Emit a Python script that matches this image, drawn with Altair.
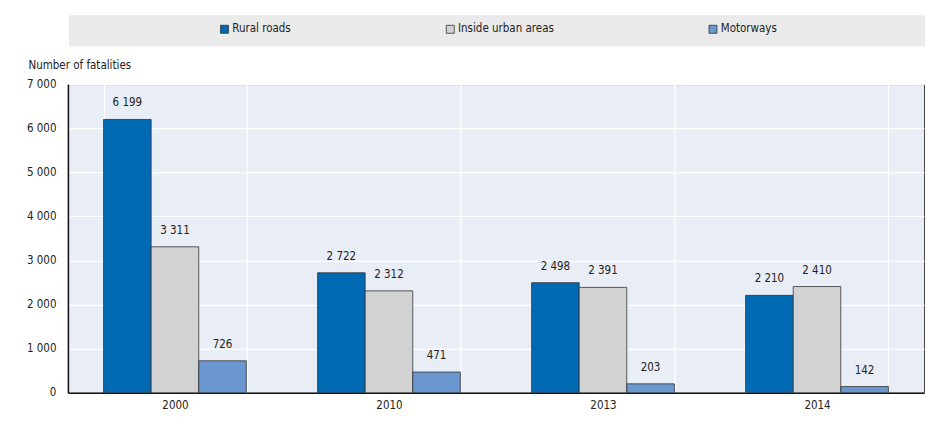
import altair as alt
import pandas as pd

years = ["2000", "2010", "2013", "2014"]
series = ["Rural roads", "Inside urban areas", "Motorways"]
rural = [6199, 2722, 2498, 2210]
urban = [3311, 2312, 2391, 2410]
motorways = [726, 471, 203, 142]
colors = ["#0069b4", "#d2d2d2", "#6a97d0"]

rows = []
for i, yr in enumerate(years):
    for s, vals in zip(series, [rural, urban, motorways]):
        rows.append({"year": yr, "series": s, "value": vals[i]})
df = pd.DataFrame(rows)

FONT = "DejaVu Sans Condensed, Liberation Sans, sans-serif"
TXT = "#222222"
FS = 11.5

band = alt.Chart(pd.DataFrame({"k": [0]})).mark_rect(color="#eaeaea").encode(
    x=alt.value(1), x2=alt.value(858), y=alt.value(-69), y2=alt.value(-38)
)

base = alt.Chart(df).transform_calculate(
    label="replace(format(datum.value, ','), ',', ' ')"
).encode(
    x=alt.X(
        "year:N",
        sort=years,
        scale=alt.Scale(paddingInner=0.333, paddingOuter=0.1665),
        axis=alt.Axis(
            title=None, grid=True, tickBand="extent", gridColor="white", gridWidth=1.2,
            ticks=False, labelAngle=0, labelPadding=7, domainColor="#111111", domainWidth=1.5,
            labelFont=FONT, labelFontSize=FS, labelColor=TXT,
        ),
    ),
    xOffset=alt.XOffset("series:N", sort=series, scale=alt.Scale(paddingInner=0, paddingOuter=0)),
    y=alt.Y(
        "value:Q",
        scale=alt.Scale(domain=[0, 7000]),
        axis=alt.Axis(
            values=list(range(0, 7001, 1000)),
            title="Number of fatalities", titleAngle=0, titleAlign="left", titleBaseline="alphabetic",
            titleX=-40, titleY=-16, titleFontWeight="normal", titleFont=FONT, titleFontSize=FS,
            titleColor=TXT,
            labelExpr="replace(format(datum.value, ','), ',', ' ')",
            ticks=False, labelPadding=12, gridColor="white", gridWidth=1.2,
            domainColor="#111111", domainWidth=1.5,
            labelFont=FONT, labelFontSize=FS, labelColor=TXT,
        ),
    ),
)

bars = base.mark_bar(stroke="#333333", strokeWidth=0.8).encode(
    color=alt.Color(
        "series:N",
        sort=series,
        scale=alt.Scale(domain=series, range=colors),
        legend=alt.Legend(
            title=None, orient="none", legendX=151, legendY=-61, direction="horizontal",
            columnPadding=153, symbolType="square", symbolSize=64, symbolStrokeColor="#333333",
            symbolStrokeWidth=0.8, labelOffset=2, labelFont=FONT, labelFontSize=FS,
            labelColor=TXT, padding=0,
        ),
    )
)

labels = base.mark_text(dy=-11, fontSize=FS, font=FONT, color=TXT, baseline="bottom").encode(
    text="label:N"
)

chart = alt.layer(band, bars, labels).properties(
    width=857,
    height=309,
    padding={"left": 60, "top": 76, "right": 10, "bottom": 30},
    autosize="none",
).configure_view(fill="#e9edf6", stroke="#444444", strokeWidth=1)

chart.save("out.html", embed_options={"renderer": "svg", "actions": False})
